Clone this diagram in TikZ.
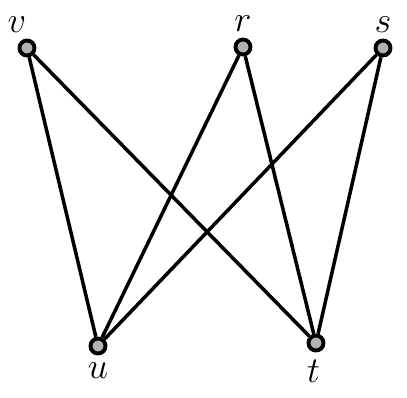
\documentclass[tikz,border=0pt]{standalone}
\usepackage{tikz}
\tikzset{
  vertex/.style={circle, draw=black, line width=2.2pt, fill=gray!60, inner sep=0pt, minimum size=0.3cm},
  edge/.style={line width=2pt, black},
  vlabel/.style={font=\huge},
}

\begin{document}
\begin{tikzpicture}[x=0.02cm, y=-0.02cm]
\useasboundingbox (0,0) rectangle (407,397);
\node[vertex, label={[vlabel, xshift=-0.2cm, label distance=0cm]above:$v$}] (v) at (27,48) {};
\node[vertex, label={[vlabel, label distance=0cm]above:$r$}] (r) at (243,47) {};
\node[vertex, label={[vlabel, label distance=0cm]above:$s$}] (s) at (383,48) {};
\node[vertex, label={[vlabel, label distance=0.03cm]below:$u$}] (u) at (98,346) {};
\node[vertex, label={[vlabel, xshift=-0.05cm, label distance=0.03cm]below:$t$}] (t) at (316,343) {};
\foreach \a in {v, r, s}
  \foreach \b in {u, t}
    \draw[edge] (\a) -- (\b);
\end{tikzpicture}
\end{document}
